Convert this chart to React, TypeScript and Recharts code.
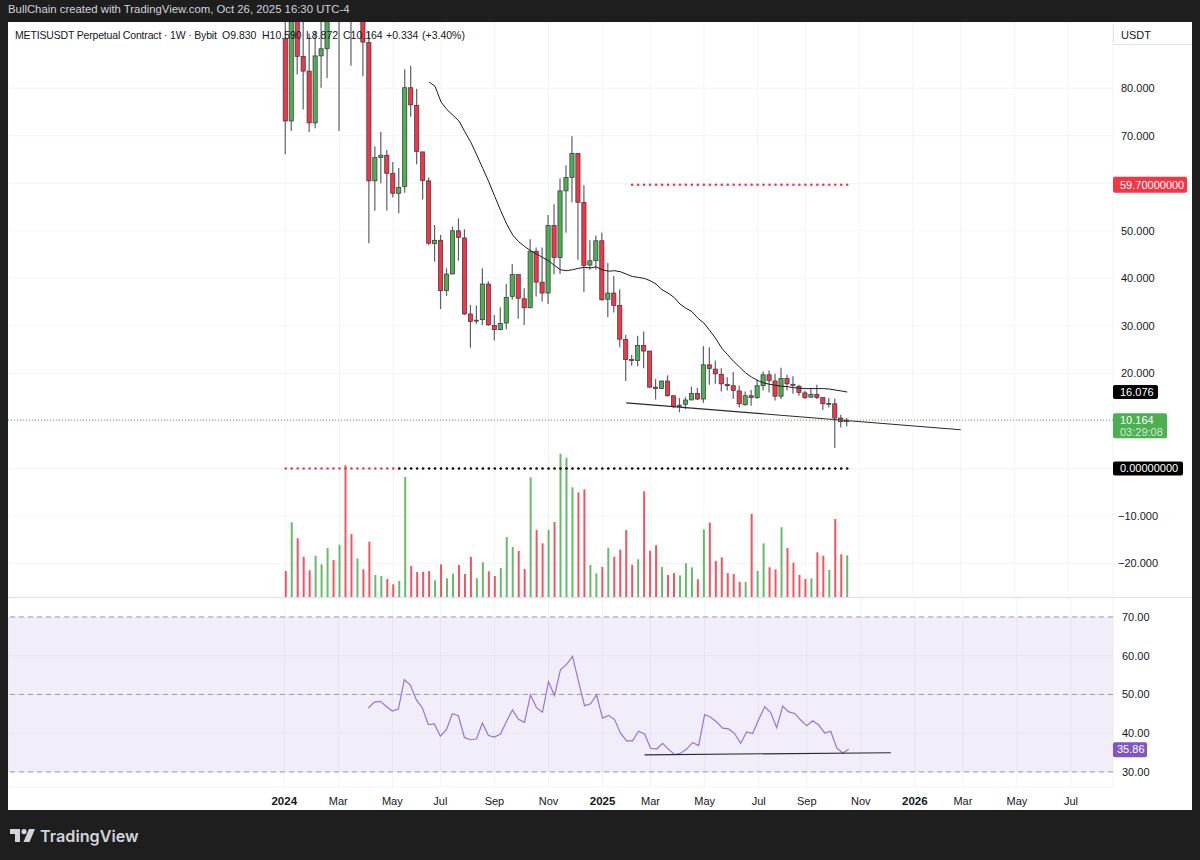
import * as React from 'react'
import {
  ComposedChart,
  CartesianGrid,
  XAxis,
  YAxis,
  Bar,
  Line,
  ReferenceLine,
  ReferenceArea,
} from 'recharts'

const FONT = '"Liberation Sans", Arial, sans-serif'
const RED = '#f23645'
const GREEN = '#4caf50'
const TEXT = '#131722'

// one row per week, week 0 = Jan 1 2024, week 94 = Oct 20 2025
const opens = [
  90.4, 73.1, 97, 86.7, 83.6, 72.7, 86.8, 88.3, 103, 96,
  106, 104, 99, 101, 89.6, 60.5, 65.4, 65.9, 62.1, 57.9,
  59.3, 80.1, 76.4, 66.6, 60.5, 47.3, 48, 37.4, 40.9, 50,
  48.5, 32.5, 31, 31.3, 38.8, 30.1, 29.2, 30.6, 36.2, 40.8,
  35.7, 33.8, 45.7, 39.2, 36.9, 51.1, 44.4, 58.4, 61.2, 66.3,
  56, 42.8, 43.7, 47.9, 35.6, 36.9, 34.3, 27.1, 22.9, 22.7,
  25.9, 24.7, 17.1, 16.8, 18.4, 15.3, 13.1, 13.5, 14.4, 15.8,
  14.6, 21.8, 20.9, 19.8, 17.7, 17.4, 16.3, 13.4, 15.3, 14.9,
  17.4, 19.7, 18.4, 15.2, 18.9, 17.7, 17.3, 15.9, 15, 15.6,
  14.9, 13.6, 13.6, 10.6, 9.83,
]
const closes = [
  73.1, 97, 86.7, 83.6, 72.7, 86.8, 88.3, 96, 100, 103,
  102, 99, 104, 89.7, 60.5, 65.4, 65.9, 62.1, 57.9, 59.1,
  80.1, 76.5, 66.7, 60.6, 47.4, 48, 37.4, 40.9, 50, 48.6,
  32.5, 30.9, 31.2, 38.8, 30.2, 29.2, 30.5, 36, 40.8, 35.8,
  33.8, 45.7, 39.2, 36.9, 51.1, 44.4, 58.4, 61.2, 66.3, 56,
  42.7, 43.7, 47.9, 35.5, 36.9, 34.3, 27.2, 22.9, 22.8, 25.9,
  24.7, 17.1, 16.8, 18.4, 15.3, 13, 13.3, 14.4, 15.8, 14.6,
  21.8, 21, 19.9, 17.8, 17.4, 16.4, 13.6, 15.3, 14.9, 17.4,
  19.7, 18.5, 15.2, 18.9, 17.8, 17.5, 16, 14.9, 15.6, 14.9,
  13.6, 13.7, 10.6, 9.83, 10.164,
]
const highs = [
  100, 100, 100, 98, 91.5, 92, 98, 99, 108, 107,
  110, 108, 107, 106, 92, 67.8, 70.8, 67, 64.5, 63.2,
  84, 84.7, 79.9, 66.6, 61.2, 51.2, 49.1, 42.1, 50.9, 52.6,
  50.3, 34.4, 34.3, 42.1, 39.4, 32.3, 33.9, 38.8, 43, 40.8,
  37.9, 48.2, 46.5, 46.5, 53.3, 55.6, 61, 63.8, 69.9, 66.3,
  59.6, 48, 49, 49.6, 43.2, 40.5, 37.7, 28.1, 23.9, 27.9,
  28.8, 24.7, 18.8, 18.4, 19.6, 15.3, 14.8, 15, 17.2, 16.9,
  25.7, 25.5, 22.7, 21.1, 19.2, 20.3, 17.4, 16.2, 16.5, 18.7,
  20.4, 20.6, 19.9, 21.2, 19.7, 19.4, 17.6, 16.4, 16.9, 17.6,
  14.9, 14.8, 14.7, 11.3, 10.59,
]
const lows = [
  66.1, 71, 82.9, 75.5, 70.8, 71.6, 80.1, 82.1, 98, 71,
  100, 84.7, 97, 82.5, 47.4, 54.2, 60, 54.2, 57, 53.7,
  58, 74, 64, 56.6, 47, 43.5, 33.5, 36.3, 40.9, 43.7,
  32.3, 25.4, 30.4, 30.2, 30, 26.9, 29, 29.3, 35.5, 31.5,
  30.2, 33.7, 36.2, 35.1, 34.6, 40.8, 40.9, 49.6, 56, 43.9,
  37.1, 41.8, 41.8, 35.3, 31.8, 32.8, 25.5, 18.4, 21.6, 21.5,
  21.1, 17, 14.5, 16.8, 15.1, 12.7, 11.8, 12.5, 14.4, 14.4,
  13.8, 17.6, 17.8, 16.2, 16.4, 14.6, 12.8, 13.2, 13.2, 14.6,
  16.4, 16, 14.3, 14.6, 16.4, 15.7, 15.3, 14.6, 14.8, 14.6,
  12.3, 12.8, 4.3, 8.6, 8.872,
]
const volumes = [
  26, 74.7, 58.7, 40.3, 26.7, 41.3, 32.7, 49, 37, 52.3,
  131.7, 63, 38.7, 27.7, 55.3, 22, 21, 18, 12.7, 16,
  120, 31, 25, 25.3, 26, 16.7, 32.7, 18.7, 23.3, 32,
  23, 40, 18.7, 34.7, 25.7, 21, 29, 60, 50, 46,
  28, 119.7, 67, 53.7, 67, 75, 143.3, 139.3, 109.7, 104.7,
  107.7, 32, 23.7, 30, 49, 40.3, 47.3, 67, 32.3, 37.7,
  105.7, 46.3, 51.7, 30, 22, 24, 21.7, 33.7, 29.7, 17.7,
  67.7, 74.3, 36, 39.7, 24, 23, 15, 15, 83, 26,
  53.7, 29.7, 27.7, 69.7, 49, 34.3, 22, 18, 18.7, 44.7,
  41.3, 27, 78, 42.7, 41.7,
]

// moving average, starts on week 24
const maStart = 24
const maValues = [
  81.3, 80.4, 77.1, 75.5, 74.3, 73.1, 70.8, 68.6, 65.9, 63.1,
  60.3, 57.2, 54.2, 51.4, 49.1, 47.7, 46.7, 45.8, 45.1, 44.4,
  43.7, 42.7, 41.8, 41.6, 41.8, 42.1, 42.3, 42.2, 42.4, 41.8,
  41.5, 41.6, 41.4, 40.9, 40.4, 40.2, 40, 39.5, 38.8, 37.6,
  36.9, 36, 34.6, 33.7, 33, 31.6, 30.6, 29, 27.3, 25.3,
  23.9, 22.5, 21.3, 20.1, 19.2, 18.5, 18, 17.7, 17.5, 17.3,
  17.2, 17, 16.9, 16.8, 16.8, 16.8, 16.8, 16.7, 16.5, 16.3,
  16.076,
]

// RSI, starts on week 14
const rsiStart = 14
const rsiValues = [
  46.5, 48, 48.2, 46.9, 45.7, 46.2, 53.8, 52.4, 48.6, 46.5,
  42.2, 42.4, 39.2, 40.9, 45, 44.5, 38.9, 38.3, 38.5, 42.6,
  39.4, 39, 39.8, 43, 46, 43.6, 42.8, 49.9, 46.6, 45.4,
  53.3, 49.7, 56.4, 57.7, 59.8, 53.4, 47.1, 47.6, 49.9, 43.9,
  44.6, 43.5, 40, 38, 38, 40.5, 39.8, 36.1, 35.9, 37.4,
  35.8, 34.5, 34.8, 35.9, 37.6, 36.8, 44.8, 44.1, 42.9, 41.3,
  41.1, 39.9, 37.4, 40.3, 39.9, 43.5, 46.8, 45.3, 41.4, 47,
  45.5, 45.1, 43.4, 41.9, 43.2, 42.1, 40, 40.5, 36.2, 34.9,
  35.86,
]

// hand drawn lines: [week, value]
const priceTrend = [[57, 13.8], [113, 8.15]]
const rsiTrend = [[60, 34.4], [101, 34.95]]
const targetLevel = 59.7
const targetFirstWeek = 58
const zeroRedLastWeek = 18
const lastPrice = 10.164

const tickWeeks = [0, 9, 18, 26, 35, 44, 53, 61, 70, 79, 87, 96, 105, 113, 122, 131]
const tickLabels = ['2024', 'Mar', 'May', 'Jul', 'Sep', 'Nov', '2025', 'Mar', 'May', 'Jul', 'Sep', 'Nov', '2026', 'Mar', 'May', 'Jul']
const priceTicks = [80, 70, 60, 50, 40, 30, 20, 10, 0, -10, -20]
// these sit under a price tag, so only their grid line shows
const coveredTicks = [60, 10, 0]
const rsiTicks = [70, 60, 50, 40, 30]

const headerStats = ['O9.830', 'H10.590', 'L8.872', 'C10.164', '+0.334', '(+3.40%)']
const headerStatLeft = [214, 254, 298, 335, 378, 414]

const LEAD_WEEKS = 46
const TOTAL_SLOTS = 185

const rows = Array.from({ length: TOTAL_SLOTS }, (_, slot) => {
  const w = slot - LEAD_WEEKS
  const has = w >= 0 && w < opens.length
  const ma = w >= maStart ? maValues[w - maStart] : undefined
  const rsi = w >= rsiStart ? rsiValues[w - rsiStart] : undefined
  const pt = priceTrend.find((p) => p[0] === w)
  const rt = rsiTrend.find((p) => p[0] === w)
  return {
    slot,
    open: has ? opens[w] : undefined,
    close: has ? closes[w] : undefined,
    range: has ? [lows[w], highs[w]] : undefined,
    volume: has ? volumes[w] : undefined,
    ma,
    rsi,
    priceTrend: pt ? pt[1] : undefined,
    rsiTrend: rt ? rt[1] : undefined,
    target: w >= targetFirstWeek && has ? targetLevel : undefined,
    zeroRed: has && w <= zeroRedLastWeek ? 0 : undefined,
    zeroBlack: has && w > zeroRedLastWeek ? 0 : undefined,
  }
})

const Candle = (props: any) => {
  const { x, y, width, height, payload } = props
  if (payload.open == null || !height) return null
  const [low, high] = payload.range
  const at = (v: number) => y + ((high - v) / (high - low)) * height
  const top = at(Math.max(payload.open, payload.close))
  const bottom = at(Math.min(payload.open, payload.close))
  const up = payload.close >= payload.open
  const mid = x + width / 2
  return (
    <g>
      <line x1={mid} x2={mid} y1={y} y2={y + height} stroke="#5d6068" strokeWidth={1.2} />
      <rect
        x={x + 0.4}
        y={top}
        width={width - 0.8}
        height={Math.max(bottom - top, 1)}
        fill={up ? GREEN : RED}
        stroke="#33363f"
        strokeWidth={0.7}
      />
    </g>
  )
}

const VolumeBar = (props: any) => {
  const { x, y, width, height, payload } = props
  if (payload.open == null) return null
  return (
    <rect
      x={x}
      y={y}
      width={width}
      height={height}
      fill={payload.close >= payload.open ? GREEN : RED}
      fillOpacity={0.85}
    />
  )
}

const TimeTick = (props: any) => {
  const { x, y, payload } = props
  const label = tickLabels[tickWeeks.indexOf(payload.value - LEAD_WEEKS)]
  const isYear = /^\d+$/.test(label)
  return (
    <text
      x={x}
      y={y + 10}
      textAnchor="middle"
      fontFamily={FONT}
      fontSize={isYear ? 11.5 : 11}
      fontWeight={isYear ? 700 : 400}
      fill={TEXT}
    >
      {label}
    </text>
  )
}

const PriceTick = (props: any) => {
  const { x, y, payload } = props
  const v = payload.value
  if (coveredTicks.includes(v)) return null
  return (
    <text x={v < 0 ? x - 3 : x} y={y + 4} textAnchor="start" fontFamily={FONT} fontSize={11} fill={TEXT}>
      {v < 0 ? '\u2212' + Math.abs(v).toFixed(3) : v.toFixed(3)}
    </text>
  )
}

const RsiTick = (props: any) => {
  const { x, y, payload } = props
  return (
    <text x={x} y={y + 4} textAnchor="start" fontFamily={FONT} fontSize={11} fill={TEXT}>
      {payload.value.toFixed(2)}
    </text>
  )
}

const PriceTag = (props: any) => {
  const { viewBox, lines, fill, width, top, height, inset = 7 } = props
  const x = viewBox.x + viewBox.width
  const y = viewBox.y
  return (
    <g fontFamily={FONT} fontSize={11}>
      <rect x={x} y={y + top} width={width} height={height} rx={2} fill={fill} />
      {lines.map((t: string, i: number) => (
        <text
          key={t}
          x={x + inset}
          y={y + 4 + i * 11.5}
          fill="#fff"
          fillOpacity={i ? 0.75 : 1}
        >
          {t}
        </text>
      ))}
    </g>
  )
}

const gridColor = '#f3f4f6'

export default function App() {
  return (
    <div style={{ position: 'fixed', left: 0, top: 0, width: 1200, height: 860, background: '#1e1e1e', overflow: 'hidden' }}>
      <div style={{ position: 'absolute', left: 8, top: 2, color: '#d1d4dc', fontFamily: FONT, fontSize: 11.35, lineHeight: '15px' }}>
        BullChain created with TradingView.com, Oct 26, 2025 16:30 UTC-4
      </div>

      <div style={{ position: 'absolute', left: 8, top: 22, width: 1184, height: 788, background: '#fff' }}>
        <div style={{ position: 'absolute', left: 0, top: 0 }}>
          <ComposedChart
            width={1184}
            height={575}
            data={rows}
            margin={{ top: 0, right: 0, bottom: 0, left: 0 }}
          >
            <CartesianGrid yAxisId="price" stroke={gridColor} />
            <XAxis dataKey="slot" type="category" ticks={tickWeeks.map((w) => w + LEAD_WEEKS)} hide />
            <XAxis xAxisId="vol" dataKey="slot" type="category" hide />
            <YAxis
              yAxisId="price"
              orientation="right"
              width={79}
              domain={[-27.05, 93.93]}
              allowDataOverflow
              ticks={priceTicks}
              interval={0}
              axisLine={false}
              tickLine={false}
              tickSize={0}
              tickMargin={8}
              tick={<PriceTick />}
            />
            <YAxis yAxisId="vol" domain={[0, 575]} hide />

            <Bar xAxisId="vol" yAxisId="vol" dataKey="volume" barSize={2} shape={VolumeBar} isAnimationActive={false} />
            <Bar yAxisId="price" dataKey="range" barSize={5} shape={Candle} isAnimationActive={false} />

            <Line yAxisId="price" dataKey="ma" stroke="#1c1c1f" strokeWidth={1} dot={false} isAnimationActive={false} />
            <Line yAxisId="price" dataKey="priceTrend" connectNulls stroke="#2a2a2e" strokeWidth={1.1} dot={false} isAnimationActive={false} />
            <Line yAxisId="price" dataKey="target" stroke="none" dot={{ r: 1.3, fill: RED, stroke: 'none' }} isAnimationActive={false} />
            <Line yAxisId="price" dataKey="zeroRed" stroke="none" dot={{ r: 1.3, fill: RED, stroke: 'none' }} isAnimationActive={false} />
            <Line yAxisId="price" dataKey="zeroBlack" stroke="none" dot={{ r: 1.3, fill: '#000', stroke: 'none' }} isAnimationActive={false} />

            <ReferenceLine yAxisId="price" y={lastPrice} stroke={GREEN} strokeDasharray="1 2" label={<PriceTag lines={['10.164', '03:29:08']} fill={GREEN} width={54} top={-7} height={25} />} />
            <ReferenceLine yAxisId="price" y={targetLevel} stroke="none" label={<PriceTag lines={['59.70000000']} fill={RED} width={74} top={-8} height={16} />} />
            <ReferenceLine yAxisId="price" y={16.076} stroke="none" label={<PriceTag lines={['16.076']} fill="#000" width={45} top={-7} height={14} />} />
            <ReferenceLine yAxisId="price" y={0} stroke="none" label={<PriceTag lines={['0.00000000']} fill="#000" width={70} top={-7} height={14} />} />
          </ComposedChart>
        </div>

        <div style={{ position: 'absolute', left: 0, top: 575, width: 1184, borderTop: '1px solid #e0e3eb' }} />

        <div style={{ position: 'absolute', left: 0, top: 576 }}>
          <ComposedChart
            width={1184}
            height={212}
            data={rows}
            margin={{ top: 0, right: 0, bottom: 0, left: 0 }}
          >
            <CartesianGrid stroke={gridColor} />
            <XAxis
              dataKey="slot"
              type="category"
              ticks={tickWeeks.map((w) => w + LEAD_WEEKS)}
              interval={0}
              height={23}
              axisLine={false}
              tickLine={false}
              tick={<TimeTick />}
            />
            <YAxis
              orientation="right"
              width={79}
              domain={[26.1, 74.9]}
              ticks={rsiTicks}
              interval={0}
              axisLine={false}
              tickLine={false}
              tickSize={0}
              tickMargin={9}
              tick={<RsiTick />}
            />
            <ReferenceArea y1={30} y2={70} fill="#7e57c2" fillOpacity={0.1} stroke="none" />
            <ReferenceLine y={70} stroke="#9f9aa8" strokeDasharray="5 4" />
            <ReferenceLine y={50} stroke="#9f9aa8" strokeDasharray="5 4" />
            <ReferenceLine y={30} stroke="#9f9aa8" strokeDasharray="5 4" />
            <Line dataKey="rsi" stroke="#9575d6" strokeWidth={1.2} dot={false} isAnimationActive={false} />
            <Line dataKey="rsiTrend" connectNulls stroke="#2a2a2e" strokeWidth={1.1} dot={false} isAnimationActive={false} />
            <ReferenceLine y={35.86} stroke="none" label={<PriceTag lines={['35.86']} fill="#7e57c2" width={34} top={-7} height={15} inset={4} />} />
          </ComposedChart>
        </div>

        <div style={{ position: 'absolute', left: 7, top: 6, fontFamily: FONT, fontSize: 10.5, letterSpacing: -0.17, color: TEXT, whiteSpace: 'pre', lineHeight: '14px' }}>
          METISUSDT Perpetual Contract · 1W · Bybit
        </div>
        {headerStats.map((s, i) => (
          <div key={s} style={{ position: 'absolute', left: headerStatLeft[i], top: 6, fontFamily: FONT, fontSize: 10.5, color: TEXT, lineHeight: '14px' }}>
            {s}
          </div>
        ))}
        <div style={{ position: 'absolute', left: 1105, top: 3, width: 79, height: 20, borderLeft: '1px solid #e0e3eb', borderBottom: '1px solid #e0e3eb', fontFamily: FONT, fontSize: 11, color: TEXT, lineHeight: '20px', paddingLeft: 7, boxSizing: 'border-box' }}>
          USDT
        </div>
      </div>

      <svg style={{ position: 'absolute', left: 10, top: 829 }} width={25} height={13} viewBox="0 0 25 13">
        <path d="M0 0H10V13H5V5H0Z M19 0H25L19.5 13H13.5Z" fill="#d1d4dc" />
        <circle cx={14} cy={2.6} r={2.6} fill="#d1d4dc" />
      </svg>
      <div style={{ position: 'absolute', left: 40, top: 824, color: '#d1d4dc', fontFamily: '"Inter", sans-serif', fontWeight: 600, fontSize: 16.2, lineHeight: '24px' }}>
        TradingView
      </div>
    </div>
  )
}
